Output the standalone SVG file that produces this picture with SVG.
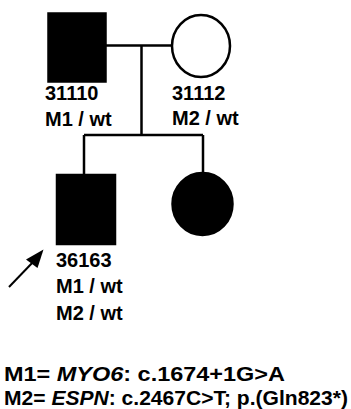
<svg xmlns="http://www.w3.org/2000/svg" width="351" height="409" viewBox="0 0 351 409">
<defs>
<style>
.sym{stroke:#000;stroke-width:2.5}
.aff{fill:#000}
.un{fill:#fff}
.ln{fill:none;stroke:#000;stroke-width:2.5}
text{font-family:"Liberation Sans",Arial,sans-serif;font-weight:bold;font-size:20px;fill:#000}
</style>
</defs>
<rect width="351" height="409" fill="#fff"/>
<g id="connectors">
<line class="ln" x1="105" y1="45.5" x2="172" y2="45.5"/>
<line class="ln" x1="141.5" y1="45.5" x2="141.5" y2="135"/>
<line class="ln" x1="84" y1="135" x2="203" y2="135"/>
<line class="ln" x1="84" y1="135" x2="84" y2="175"/>
<line class="ln" x1="203" y1="135" x2="203" y2="173"/>
</g>
<g id="n31110">
<rect class="sym aff" x="48.5" y="13.5" width="57" height="68"/>
<text x="45" y="100">31110</text>
<text x="45" y="126">M1 / wt</text>
</g>
<g id="n31112">
<ellipse class="sym un" cx="201" cy="46" rx="29" ry="31"/>
<text x="172" y="100">31112</text>
<text x="172" y="125">M2 / wt</text>
</g>
<g id="n36163">
<rect class="sym aff" x="57" y="175" width="58" height="69"/>
<text x="56" y="267">36163</text>
<text x="56" y="293">M1 / wt</text>
<text x="56" y="320">M2 / wt</text>
</g>
<g id="daughter">
<ellipse class="sym aff" cx="202.5" cy="204" rx="30" ry="31"/>
</g>
<g id="proband-arrow">
<path d="M9,287 L34,261" stroke="#000" stroke-width="2"/>
<path d="M43.5,249.5 L37.5,268 L26,259.5 Z" fill="#000"/>
</g>
<g id="legend">
<text x="4" y="381" textLength="281" lengthAdjust="spacingAndGlyphs">M1= <tspan font-style="italic">MYO6</tspan>: c.1674+1G&gt;A</text>
<text x="4" y="405" textLength="344" lengthAdjust="spacingAndGlyphs">M2= <tspan font-style="italic">ESPN</tspan>: c.2467C&gt;T; p.(Gln823*)</text>
</g>
</svg>
